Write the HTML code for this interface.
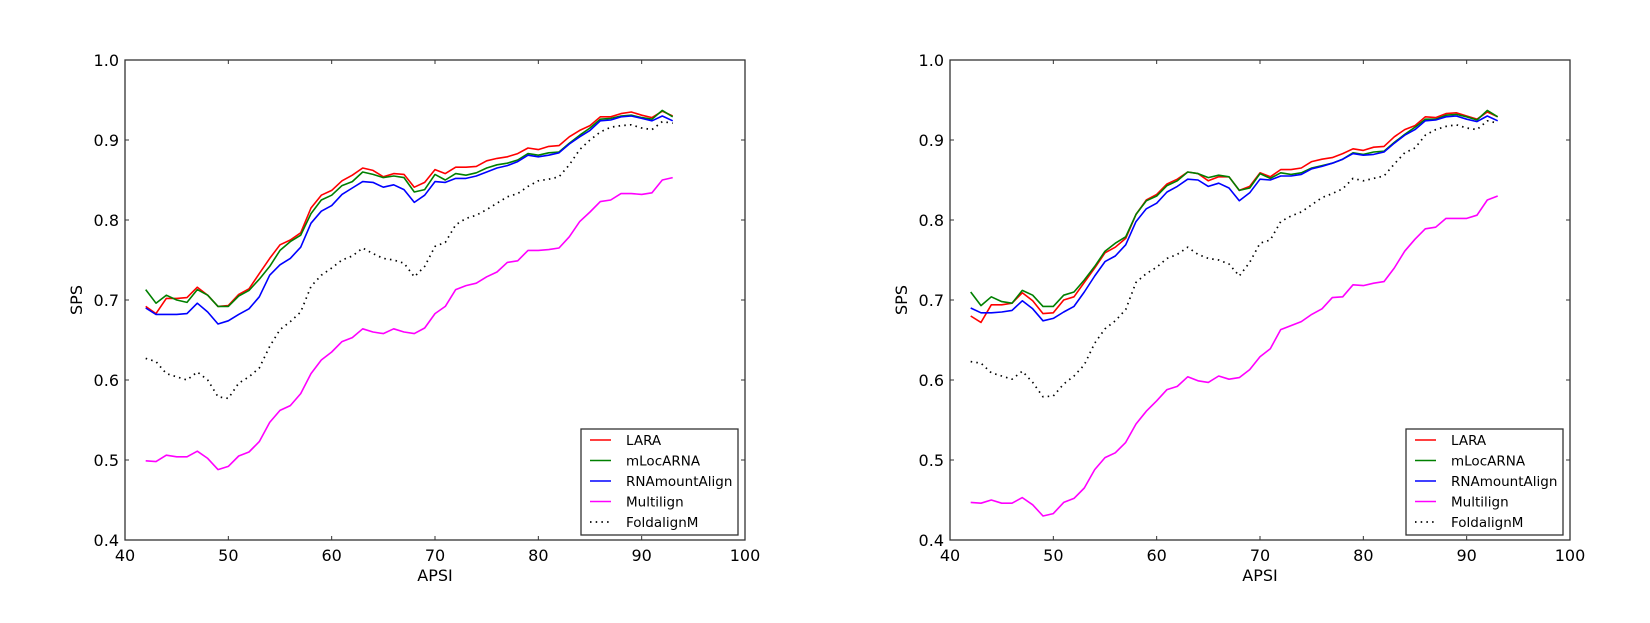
<!DOCTYPE html>
<html><head><meta charset="utf-8"><style>
html,body{margin:0;padding:0;background:#fff;}
svg{display:block;font-family:"DejaVu Sans","Liberation Sans",sans-serif;}
</style></head><body>
<svg id="fig" width="1650" height="623" viewBox="0 0 1650 623"></svg>
<script>
const xValues = [42,43,44,45,46,47,48,49,50,51,52,53,54,55,56,57,58,59,60,61,62,63,64,65,66,67,68,69,70,71,72,73,74,75,76,77,78,79,80,81,82,83,84,85,86,87,88,89,90,91,92,93];
const xTicks = [40,50,60,70,80,90,100];
const yTicks = [0.4,0.5,0.6,0.7,0.8,0.9,1.0];
const yTickLabels = ["0.4","0.5","0.6","0.7","0.8","0.9","1.0"];
const seriesNames = ["LARA","mLocARNA","RNAmountAlign","Multilign","FoldalignM"];

const leftLARA = [0.692,0.683,0.702,0.702,0.703,0.716,0.706,0.692,0.693,0.707,0.714,0.733,0.752,0.769,0.775,0.784,0.815,0.831,0.837,0.849,0.856,0.865,0.862,0.854,0.858,0.857,0.841,0.847,0.863,0.858,0.866,0.866,0.867,0.874,0.877,0.879,0.883,0.890,0.888,0.892,0.893,0.904,0.912,0.918,0.929,0.929,0.933,0.935,0.931,0.928,0.936,0.930];
const leftMLoc = [0.713,0.696,0.706,0.700,0.697,0.713,0.706,0.692,0.692,0.705,0.712,0.726,0.742,0.762,0.773,0.781,0.808,0.825,0.831,0.843,0.848,0.860,0.857,0.853,0.855,0.853,0.835,0.838,0.857,0.850,0.858,0.856,0.859,0.865,0.869,0.871,0.875,0.883,0.881,0.884,0.885,0.896,0.906,0.915,0.926,0.927,0.930,0.931,0.928,0.926,0.937,0.929];
const leftRNAm = [0.690,0.682,0.682,0.682,0.683,0.696,0.685,0.670,0.674,0.682,0.689,0.704,0.731,0.744,0.752,0.766,0.796,0.811,0.818,0.832,0.840,0.848,0.847,0.841,0.844,0.838,0.822,0.831,0.848,0.847,0.852,0.852,0.855,0.860,0.865,0.868,0.873,0.881,0.879,0.881,0.884,0.895,0.904,0.912,0.924,0.925,0.929,0.930,0.927,0.924,0.930,0.924];
const leftMulti = [0.499,0.498,0.506,0.504,0.504,0.511,0.502,0.488,0.492,0.505,0.510,0.523,0.547,0.562,0.568,0.583,0.608,0.625,0.635,0.648,0.653,0.664,0.660,0.658,0.664,0.660,0.658,0.665,0.683,0.692,0.713,0.718,0.721,0.729,0.735,0.747,0.749,0.762,0.762,0.763,0.765,0.779,0.798,0.810,0.823,0.825,0.833,0.833,0.832,0.834,0.850,0.853];
const leftFold = [0.627,0.623,0.608,0.604,0.600,0.610,0.600,0.579,0.577,0.596,0.604,0.615,0.642,0.663,0.673,0.685,0.717,0.731,0.740,0.750,0.755,0.765,0.758,0.752,0.750,0.746,0.729,0.742,0.767,0.772,0.794,0.802,0.806,0.813,0.821,0.829,0.833,0.842,0.849,0.851,0.854,0.869,0.888,0.900,0.910,0.916,0.918,0.919,0.915,0.913,0.923,0.921];

const rightLARA = [0.680,0.672,0.694,0.694,0.696,0.709,0.699,0.683,0.684,0.700,0.704,0.722,0.740,0.759,0.766,0.777,0.807,0.825,0.832,0.845,0.851,0.860,0.858,0.849,0.854,0.854,0.837,0.842,0.859,0.854,0.863,0.863,0.865,0.873,0.876,0.878,0.883,0.889,0.887,0.891,0.892,0.904,0.913,0.918,0.929,0.928,0.933,0.934,0.930,0.926,0.935,0.929];
const rightMLoc = [0.710,0.693,0.704,0.698,0.696,0.712,0.706,0.692,0.692,0.706,0.710,0.725,0.742,0.761,0.771,0.779,0.807,0.824,0.830,0.843,0.849,0.860,0.858,0.853,0.856,0.854,0.837,0.840,0.858,0.852,0.859,0.857,0.859,0.865,0.868,0.871,0.876,0.884,0.882,0.885,0.886,0.897,0.907,0.916,0.926,0.926,0.931,0.932,0.929,0.925,0.937,0.929];
const rightRNAm = [0.690,0.684,0.684,0.685,0.687,0.699,0.689,0.674,0.677,0.685,0.692,0.710,0.730,0.748,0.755,0.769,0.798,0.814,0.821,0.835,0.842,0.851,0.850,0.842,0.846,0.840,0.824,0.834,0.851,0.850,0.855,0.855,0.857,0.864,0.867,0.871,0.876,0.883,0.881,0.882,0.885,0.896,0.906,0.913,0.924,0.925,0.929,0.930,0.926,0.923,0.930,0.924];
const rightMulti = [0.447,0.446,0.450,0.446,0.446,0.453,0.444,0.430,0.433,0.447,0.452,0.465,0.488,0.503,0.509,0.522,0.545,0.561,0.574,0.588,0.592,0.604,0.599,0.597,0.605,0.601,0.603,0.613,0.629,0.639,0.663,0.668,0.673,0.682,0.689,0.703,0.704,0.719,0.718,0.721,0.723,0.740,0.761,0.776,0.789,0.791,0.802,0.802,0.802,0.806,0.825,0.830];
const rightFold = [0.623,0.621,0.609,0.605,0.601,0.611,0.597,0.579,0.580,0.595,0.605,0.619,0.646,0.664,0.674,0.688,0.722,0.733,0.741,0.752,0.757,0.766,0.757,0.752,0.750,0.745,0.730,0.747,0.771,0.775,0.798,0.805,0.810,0.819,0.828,0.833,0.839,0.852,0.849,0.852,0.855,0.870,0.884,0.890,0.906,0.913,0.917,0.919,0.915,0.913,0.924,0.921];

const NS = "http://www.w3.org/2000/svg";
const svg = document.getElementById('fig');
const colors = ["#ff0000","#008000","#0000ff","#ff00ff","#000000"];
function mk(tag, attrs, parent){const e=document.createElementNS(NS,tag);for(const k in attrs)e.setAttribute(k,attrs[k]);(parent||svg).appendChild(e);return e;}

function drawPanel(prefix, left, series){
  const L=left, R=left+620, T=60, B=540;
  const sx = v => L + (v-40)/60*(R-L);
  const sy = v => B - (v-0.4)/0.6*(B-T);
  const g = mk('g',{});
  
  
  series.forEach((vals,i)=>{
    const pts = vals.map((v,j)=>sx(xValues[j]).toFixed(1)+','+sy(v).toFixed(1)).join(' ');
    const attrs={points:pts,fill:'none',stroke:colors[i],'stroke-width':1.6,'stroke-linejoin':'round'};
    if(i===4){attrs['stroke-dasharray']='1.5,4.2';attrs['stroke-width']=1.7;}
    const pl = mk('polyline',attrs,g);
    
    
  });
  const frame = mk('rect',{x:L,y:T,width:R-L,height:B-T,fill:'none',stroke:'#333','stroke-width':1.3},g);
  
  
  xTicks.forEach(t=>{
    const x=sx(t);
    mk('line',{x1:x,y1:B,x2:x,y2:B-4,stroke:'#333'},g);
    mk('line',{x1:x,y1:T,x2:x,y2:T+4,stroke:'#333'},g);
    const tx = mk('text',{x:x,y:B+21,'font-size':16,'text-anchor':'middle',fill:'#000'},g);
    tx.textContent=String(t);
    
    
  });
  yTicks.forEach((t,i)=>{
    const y=sy(t);
    mk('line',{x1:L,y1:y,x2:L+4,y2:y,stroke:'#333'},g);
    mk('line',{x1:R,y1:y,x2:R-4,y2:y,stroke:'#333'},g);
    const ty = mk('text',{x:L-6,y:y+6,'font-size':16,'text-anchor':'end',fill:'#000'},g);
    ty.textContent=yTickLabels[i];
    
    
  });
  const xl = mk('text',{x:(L+R)/2,y:B+41,'font-size':16,'text-anchor':'middle'},g);
  xl.textContent='APSI';
  
  
  const yl = mk('text',{x:0,y:0,'font-size':16,'text-anchor':'middle',transform:'translate('+(L-43)+','+((T+B)/2)+') rotate(-90)'},g);
  yl.textContent='SPS';
  
  
  const lg = mk('g',{},g);
  
  
  const lx=R-164, ly=429;
  mk('rect',{x:lx,y:ly,width:157,height:106,fill:'#fff',stroke:'#333','stroke-width':1.3},lg);
  seriesNames.forEach((n,i)=>{
    const y=ly+11+i*20.5;
    const a={x1:lx+9,y1:y,x2:lx+30,y2:y,stroke:colors[i],'stroke-width':1.6};
    if(i===4){a['stroke-dasharray']='1.5,4.2';a['stroke-width']=1.7;}
    mk('line',a,lg);
    const t=mk('text',{x:lx+45,y:y+5,'font-size':13.5},lg);
    t.textContent=n;
    
    
  });
}
drawPanel('left',125,[leftLARA,leftMLoc,leftRNAm,leftMulti,leftFold]);
drawPanel('right',950,[rightLARA,rightMLoc,rightRNAm,rightMulti,rightFold]);
</script>
</body></html>
